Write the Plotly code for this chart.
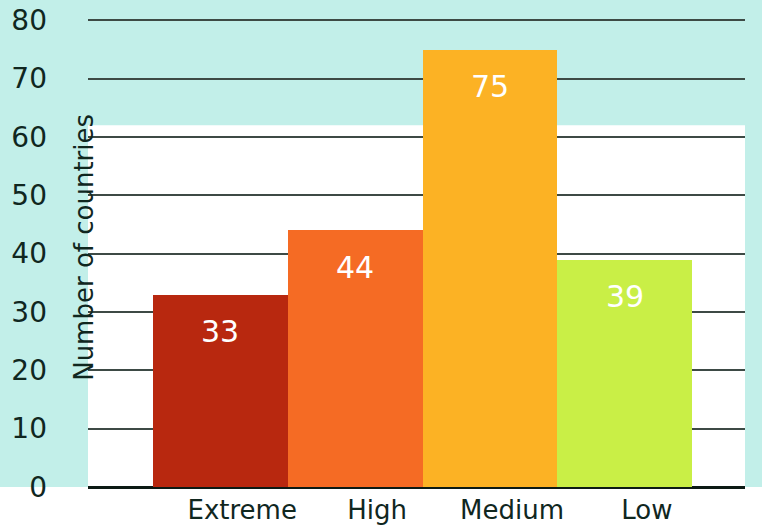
import plotly.graph_objects as go

categories = ["Extreme", "High", "Medium", "Low"]
values = [33, 44, 75, 39]
bar_colors = ["#b8280f", "#f56b24", "#fcb224", "#c9ef46"]
y_ticks = [0, 10, 20, 30, 40, 50, 60, 70, 80]

W, H = 762, 529
ml, mr, mt, mb = 88, 17, 18, 42
FONT = "DejaVu Sans, Open Sans, sans-serif"
INK = "#10271f"

fig = go.Figure()
fig.add_trace(go.Bar(
    x=categories, y=values, marker=dict(color=bar_colors, line=dict(width=0)),
    width=1.0, showlegend=False, hoverinfo="skip"))

for c, v in zip(categories, values):
    fig.add_annotation(x=c, y=v, text=str(v), showarrow=False, yshift=-37,
                       font=dict(family=FONT, size=30, color="white"))

fig.add_annotation(xref="paper", yref="paper", x=(67 - ml) / (W - ml - mr), y=0.51,
                   text="Number of countries", textangle=-90, showarrow=False,
                   font=dict(family=FONT, size=26, color=INK))

cyan = "#c2efe9"
fig.add_shape(type="rect", xref="paper", yref="y", x0=0, x1=1, y0=62, y1=80.4,
              fillcolor=cyan, line=dict(width=0), layer="below")
fig.add_shape(type="rect", xref="paper", yref="paper", x0=-0.2, x1=1.05, y0=-0.2, y1=0,
              fillcolor="white", line=dict(width=0), layer="below")

fig.update_layout(
    width=W, height=H, margin=dict(l=ml, r=mr, t=mt, b=mb),
    paper_bgcolor=cyan, plot_bgcolor="white", bargap=0,
    font=dict(family=FONT, color=INK),
    xaxis=dict(range=[-0.98, 3.89], showgrid=False, ticks="", showline=False,
               tickfont=dict(size=26, color=INK), ticklabelshift=22,
               ticklabelstandoff=5, zeroline=False, automargin=False),
    yaxis=dict(range=[0, 80.4], tickvals=y_ticks, showgrid=True, gridcolor="#3d4a45",
               gridwidth=2, zeroline=True, zerolinecolor="#0c1a14", zerolinewidth=3,
               tickfont=dict(size=28, color=INK), ticklabelstandoff=40,
               showline=False, ticks="", automargin=False),
)
fig.write_html("out.html")
